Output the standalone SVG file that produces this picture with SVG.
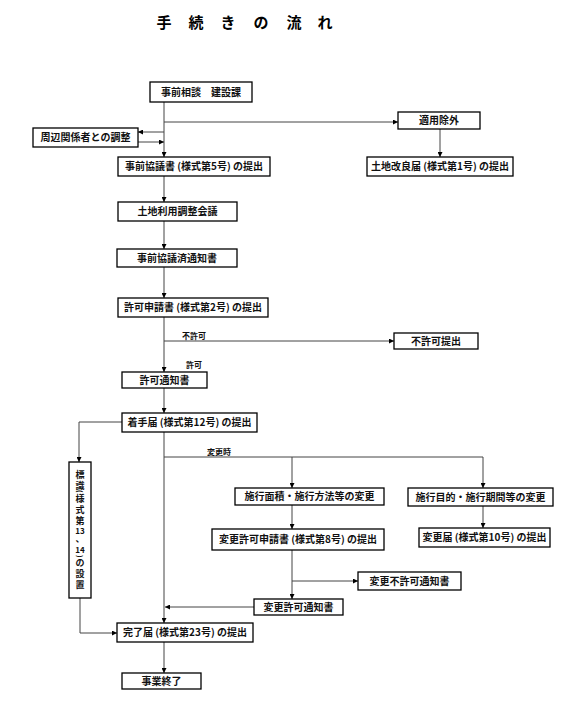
<svg xmlns="http://www.w3.org/2000/svg" width="573" height="709" viewBox="0 0 573 709">
<style>
.box{fill:#fff;stroke:#000;stroke-width:1.3}
.t{font-family:"Noto Sans CJK JP","Noto Sans CJK SC",sans-serif;font-size:10px;font-weight:bold;fill:#111;text-anchor:middle}
.v{font-family:"Noto Sans CJK JP","Noto Sans CJK SC",sans-serif;font-size:9px;font-weight:bold;fill:#111;text-anchor:middle}
.lbl{font-family:"Noto Sans CJK JP",sans-serif;font-size:8px;font-weight:bold;fill:#111}
.title{font-family:"Noto Sans CJK JP",sans-serif;font-size:15px;font-weight:bold;fill:#000;text-anchor:middle}
.c{fill:none;stroke:#444;stroke-width:1}
</style>
<defs>
<marker id="ah" viewBox="0 0 6 6" refX="6" refY="3" markerWidth="5" markerHeight="5" markerUnits="userSpaceOnUse" orient="auto">
<path d="M0,0 L6,3 L0,6 Z" fill="#000"/>
</marker>
</defs>
<rect width="573" height="709" fill="#fff"/>
<text class="title" y="28"><tspan x="164">手</tspan><tspan x="196">続</tspan><tspan x="228">き</tspan><tspan x="261">の</tspan><tspan x="294">流</tspan><tspan x="325">れ</tspan></text>

<g id="connectors">
<path class="c" d="M164,102 V157" marker-end="url(#ah)"/>
<path class="c" d="M164,122 H398" marker-end="url(#ah)"/>
<path class="c" d="M164,132 H138" marker-end="url(#ah)"/>
<path class="c" d="M138,142 H164" marker-end="url(#ah)"/>
<path class="c" d="M440,129 V157" marker-end="url(#ah)"/>
<path class="c" d="M164,176 V202" marker-end="url(#ah)"/>
<path class="c" d="M164,221 V249" marker-end="url(#ah)"/>
<path class="c" d="M164,267 V298" marker-end="url(#ah)"/>
<path class="c" d="M164,317 V372" marker-end="url(#ah)"/>
<path class="c" d="M164,341 H394" marker-end="url(#ah)"/>
<path class="c" d="M164,388 V413" marker-end="url(#ah)"/>
<path class="c" d="M164,432 V623" marker-end="url(#ah)"/>
<path class="c" d="M164,457 H483 V488" marker-end="url(#ah)"/>
<path class="c" d="M292,457 V488" marker-end="url(#ah)"/>
<path class="c" d="M122,422 H79 V462" marker-end="url(#ah)"/>
<path class="c" d="M292,505 V529" marker-end="url(#ah)"/>
<path class="c" d="M483,506 V528" marker-end="url(#ah)"/>
<path class="c" d="M292,550 V599" marker-end="url(#ah)"/>
<path class="c" d="M292,581 H358" marker-end="url(#ah)"/>
<path class="c" d="M254,607 H165" marker-end="url(#ah)"/>
<path class="c" d="M80,598 V633 H117" marker-end="url(#ah)"/>
<path class="c" d="M164,642 V673" marker-end="url(#ah)"/>
<text class="lbl" x="182" y="339">不許可</text>
<text class="lbl" x="186" y="368">許可</text>
<text class="lbl" x="207" y="455">変更時</text>
</g>

<g id="n1"><rect class="box" x="150" y="82" width="102" height="20"/><text class="t" x="201" y="95.5">事前相談　建設課</text></g>
<g id="n2"><rect class="box" x="398" y="112" width="82" height="17"/><text class="t" x="439" y="124">適用除外</text></g>
<g id="n3"><rect class="box" x="33" y="128" width="105" height="19"/><text class="t" x="85.5" y="141">周辺関係者との調整</text></g>
<g id="n4"><rect class="box" x="118" y="157" width="152" height="19"/><text class="t" x="194" y="170">事前協議書 (様式第5号) の提出</text></g>
<g id="n5"><rect class="box" x="367" y="157" width="146" height="19"/><text class="t" x="440" y="170">土地改良届 (様式第1号) の提出</text></g>
<g id="n6"><rect class="box" x="118" y="202" width="119" height="19"/><text class="t" x="177.5" y="215">土地利用調整会議</text></g>
<g id="n7"><rect class="box" x="117" y="249" width="120" height="18"/><text class="t" x="177" y="261.5">事前協議済通知書</text></g>
<g id="n8"><rect class="box" x="118" y="298" width="150" height="19"/><text class="t" x="193" y="311">許可申請書 (様式第2号) の提出</text></g>
<g id="n9"><rect class="box" x="394" y="333" width="84" height="16"/><text class="t" x="436" y="344.5">不許可提出</text></g>
<g id="n10"><rect class="box" x="122" y="372" width="85" height="16"/><text class="t" x="164.5" y="383.5">許可通知書</text></g>
<g id="n11"><rect class="box" x="122" y="413" width="135" height="19"/><text class="t" x="189.5" y="426">着手届 (様式第12号) の提出</text></g>
<g id="n12"><rect class="box" x="69" y="462" width="22" height="136"/>
<text class="v"><tspan x="80" y="477.5">標</tspan><tspan x="80" y="488.5">識</tspan><tspan x="77" y="490" font-size="7" rotate="90" text-anchor="start">(</tspan><tspan x="80" y="501.5">様</tspan><tspan x="80" y="512.5">式</tspan><tspan x="80" y="523.5">第</tspan><tspan x="80" y="534" font-size="8">13</tspan><tspan x="80" y="542">、</tspan><tspan x="80" y="553" font-size="8">14</tspan><tspan x="77" y="555" font-size="7" rotate="90" text-anchor="start">)</tspan><tspan x="80" y="565.5">の</tspan><tspan x="80" y="576.5">設</tspan><tspan x="80" y="587.5">置</tspan></text></g>
<g id="n13"><rect class="box" x="235" y="488" width="149" height="17"/><text class="t" x="309.5" y="500">施行面積・施行方法等の変更</text></g>
<g id="n14"><rect class="box" x="408" y="488" width="145" height="18"/><text class="t" x="480.5" y="500.5">施行目的・施行期間等の変更</text></g>
<g id="n15"><rect class="box" x="212" y="529" width="172" height="21"/><text class="t" x="298" y="543">変更許可申請書 (様式第8号) の提出</text></g>
<g id="n16"><rect class="box" x="419" y="528" width="131" height="19"/><text class="t" x="484.5" y="541">変更届 (様式第10号) の提出</text></g>
<g id="n17"><rect class="box" x="358" y="572" width="103" height="18"/><text class="t" x="409.5" y="584.5">変更不許可通知書</text></g>
<g id="n18"><rect class="box" x="254" y="599" width="89" height="16"/><text class="t" x="298.5" y="610.5">変更許可通知書</text></g>
<g id="n19"><rect class="box" x="117" y="623" width="136" height="19"/><text class="t" x="185" y="636">完了届 (様式第23号) の提出</text></g>
<g id="n20"><rect class="box" x="122" y="673" width="79" height="16"/><text class="t" x="161.5" y="684.5">事業終了</text></g>
</svg>
